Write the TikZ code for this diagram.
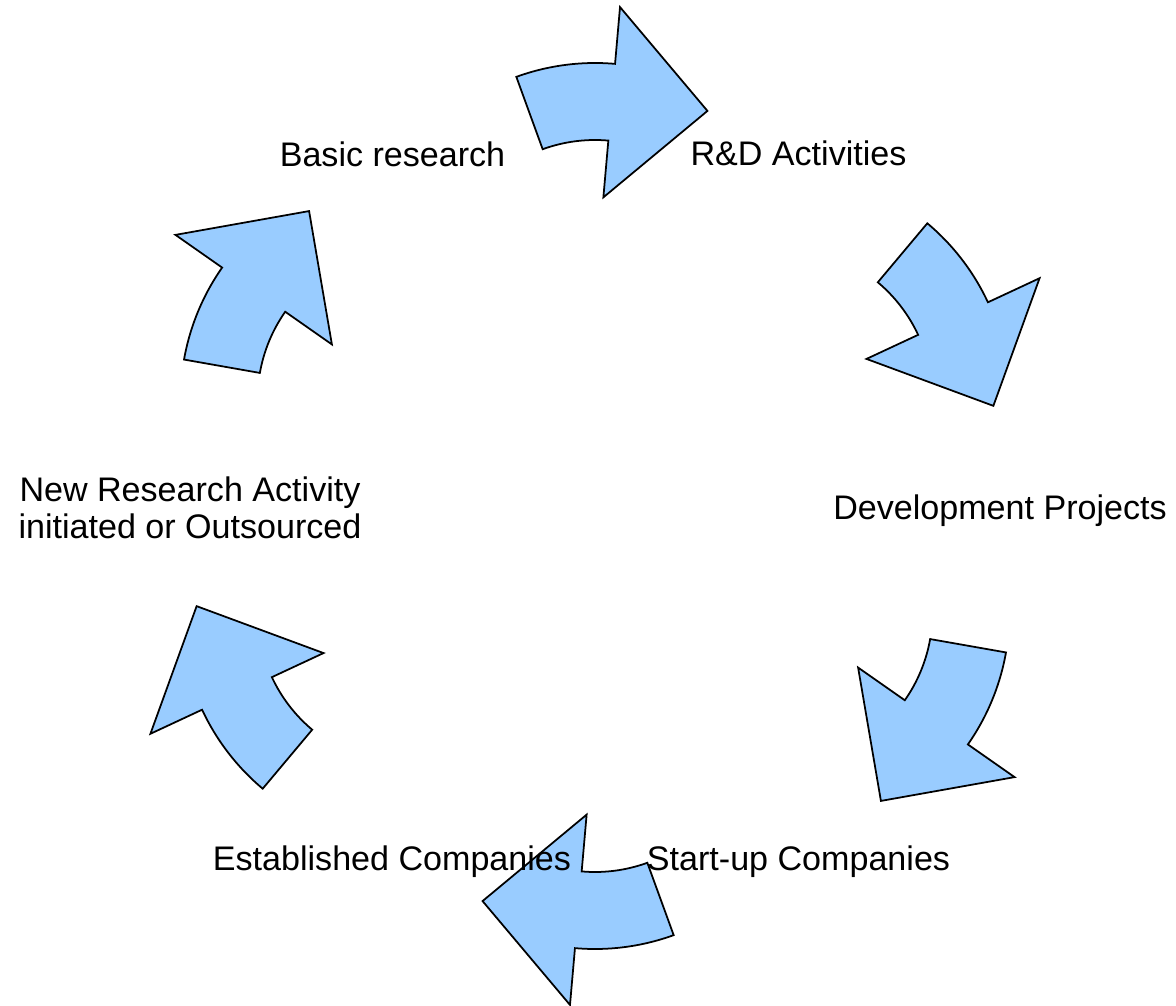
\documentclass[tikz,border=0pt]{standalone}
\usepackage{fontspec}
\setmainfont{Liberation Sans}
\usepackage{tikz}
\definecolor{arrowblue}{RGB}{153,204,255}

\begin{document}
\begin{tikzpicture}[x=0.02cm, y=0.02cm]
	\tikzstyle{every node} = [font=\fontsize{19.4}{20.8}\selectfont, inner sep=0pt]
	\tikzstyle{cyclearrow} = [draw=black, line width=1pt, fill=arrowblue, line join=miter]
	\useasboundingbox (0,0) rectangle (1176,1005);
	\coordinate (c) at (595,499);
	\foreach \rot in {0,-60,...,-300}
	\draw [cyclearrow, shift={(c)}, rotate=\rot, shift={(0,213)}]
		(110:153) -- (110:230) arc [start angle=110, end angle=85, radius=230]
		-- (85:287) -- (58.3:214) -- (85:96) -- (85:153)
		arc [start angle=85, end angle=110, radius=153] -- cycle;
	\node [anchor=base] (basic) at (392.5, 838) {Basic research};
	\node [anchor=base] (rnd) at (798.5, 839) {R\&D Activities};
	\node [anchor=base] (devel) at (1000, 485) {Development Projects};
	\node [anchor=base, align=center] (newres) at (190, 467) {New Research Activity\\initiated or Outsourced};
	\node [anchor=base] (estab) at (392, 135) {Established Companies};
	\node [anchor=base] (startup) at (798.5, 135) {Start-up Companies};
\end{tikzpicture}
\end{document}
